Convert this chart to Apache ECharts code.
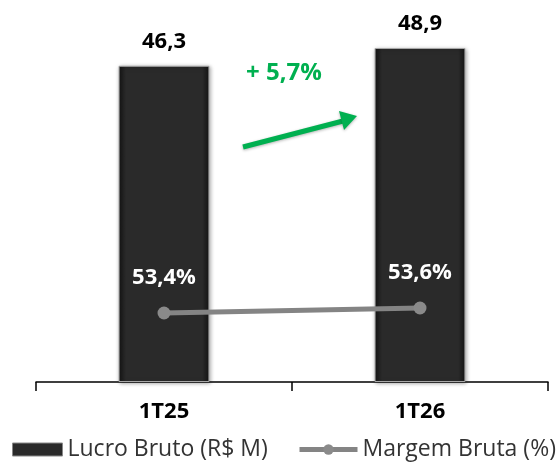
<!DOCTYPE html>
<html>
<head>
<meta charset="utf-8">
<script src="https://cdn.jsdelivr.net/npm/echarts@6/dist/echarts.min.js"></script>
<style>
  html, body { margin: 0; padding: 0; background: #fff; }
  #chart { width: 557px; height: 467px; }
</style>
</head>
<body>
<div id="chart"></div>
<script>
// data
const categories = ["1T25", "1T26"];
const lucroBruto = [46.3, 48.9];
const margemBruta = [53.4, 53.6];
const growthText = "+ 5,7%";

const fmt = (v, d) => v.toFixed(d).replace(".", ",");
const FONT = "Open Sans";

const chart = echarts.init(document.getElementById("chart"));

const legendText = { fontFamily: FONT, fontSize: 23, color: "#333" };

const option = {
    animation: false,
    textStyle: { fontFamily: FONT },
    grid: { left: 36, right: 9, top: 40.5, bottom: 85 },
    legend: [
        {
            left: 12,
            top: 438,
            padding: 0,
            itemWidth: 50,
            itemHeight: 13,
            textStyle: legendText,
            data: [{
                name: "Lucro Bruto (R$ M)",
                icon: "rect",
                itemStyle: { color: "#2a2a2a", borderColor: "#888", borderWidth: 1 }
            }]
        },
        {
            left: 297,
            top: 438,
            padding: 0,
            itemWidth: 58,
            itemHeight: 13,
            textStyle: legendText,
            data: [{
                name: "Margem Bruta (%)",
                lineStyle: { width: 5, color: "#848484" },
                itemStyle: { color: "#8a8a8a" }
            }]
        }
    ],
    xAxis: {
        type: "category",
        data: categories,
        axisLine: { lineStyle: { color: "#000", width: 1.5 } },
        axisTick: { show: true, length: 9, lineStyle: { color: "#000", width: 1.5 } },
        axisLabel: { fontFamily: FONT, fontSize: 22, fontWeight: "bold", color: "#000", margin: 19 }
    },
    yAxis: [
        { type: "value", min: 0, max: 50, show: false, splitLine: { show: false } },
        { type: "value", min: 50.64, max: 64.3, show: false, splitLine: { show: false } }
    ],
    series: [
        {
            name: "Lucro Bruto (R$ M)",
            type: "bar",
            barWidth: "35.5%",
            data: lucroBruto,
            itemStyle: {
                color: {
                    type: "linear", x: 0, y: 0, x2: 1, y2: 0,
                    colorStops: [
                        { offset: 0, color: "#141414" },
                        { offset: 0.08, color: "#2a2a2a" },
                        { offset: 0.92, color: "#2a2a2a" },
                        { offset: 1, color: "#141414" }
                    ]
                },
                borderColor: "#a8a8a8",
                borderWidth: 1,
                shadowBlur: 4,
                shadowColor: "rgba(0,0,0,0.35)",
                shadowOffsetX: 1,
                shadowOffsetY: 1
            },
            label: {
                show: true,
                position: "top",
                distance: 13,
                fontFamily: FONT,
                fontSize: 22,
                fontWeight: "bold",
                color: "#000",
                formatter: p => fmt(p.value, 1)
            },
            z: 2
        },
        {
            name: "Margem Bruta (%)",
            type: "line",
            yAxisIndex: 1,
            data: margemBruta,
            symbol: "circle",
            symbolSize: 13,
            lineStyle: { color: "#848484", width: 5 },
            itemStyle: { color: "#8a8a8a" },
            label: {
                show: true,
                position: "top",
                distance: 18,
                fontFamily: FONT,
                fontSize: 22,
                fontWeight: "bold",
                color: "#fff",
                formatter: p => fmt(p.value, 1) + "%"
            },
            z: 5
        }
    ],
    graphic: [
        {
            type: "text",
            left: 246,
            top: 61,
            style: { text: growthText, fontFamily: FONT, fontSize: 24, fontWeight: "bold", fill: "#00B050" }
        },
        {
            type: "group",
            children: [
                {
                    type: "line",
                    shape: { x1: 243, y1: 147, x2: 343, y2: 121 },
                    style: { stroke: "#00B050", lineWidth: 5, shadowBlur: 3, shadowColor: "rgba(0,0,0,0.3)", shadowOffsetY: 1 }
                },
                {
                    type: "polygon",
                    shape: { points: [[357, 116], [344, 130], [339, 111]] },
                    style: { fill: "#00B050", shadowBlur: 3, shadowColor: "rgba(0,0,0,0.3)", shadowOffsetY: 1 }
                }
            ]
        }
    ]
};

chart.setOption(option);
</script>
</body>
</html>
